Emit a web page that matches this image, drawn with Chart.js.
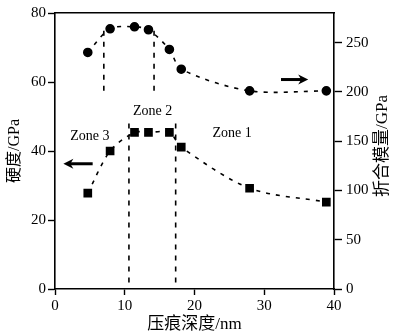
<!DOCTYPE html>
<html>
<head>
<meta charset="utf-8">
<script src="https://cdn.jsdelivr.net/npm/chart.js@4"></script>
<style>
  html, body { margin: 0; padding: 0; background: #fff; }
  #wrap { width: 394px; height: 333px; }
</style>
</head>
<body>
<div id="wrap"><canvas id="myChart" width="394" height="333"></canvas></div>
<script>
// 压痕深度 (nm)
const depth = [4.7, 7.9, 11.4, 13.4, 16.4, 18.1, 27.9, 38.9];
// 硬度 (GPa), left axis
const hardness = [27.8, 40, 45.4, 45.4, 45.4, 41.1, 29.2, 25.2];
// 折合模量 (GPa), right axis
const modulus = [240, 264, 266, 263, 243, 223, 201, 201];

const xTicks = [0, 10, 20, 30, 40];
const yLeftTicks = [0, 20, 40, 60, 80];
const yRightTicks = [0, 50, 100, 150, 200, 250];

// zone boundaries: [x, yFrom, yTo]
const upperZoneLines = [[7.0, 262, 197], [14.2, 262, 197]];  // right axis
const lowerZoneLines = [[10.6, 48, 0], [17.3, 48, 0]];       // left axis

// zone labels [text, x, yLeft]
const zoneLabels = [['Zone 3', 5.0, 44.3], ['Zone 2', 14.0, 51.6], ['Zone 1', 25.4, 45.1]];

const serif = '"Liberation Serif", "Noto Sans CJK SC", serif';

function zip(xs, ys) {
  return xs.map((x, i) => ({ x: x, y: ys[i] }));
}

function zoneDataset(line, axis) {
  return {
    data: [{ x: line[0], y: line[1] }, { x: line[0], y: line[2] }],
    yAxisID: axis,
    showLine: true,
    borderColor: '#000',
    borderWidth: 1.6,
    borderDash: [5, 6],
    pointRadius: 0
  };
}

const annotations = {
  id: 'annotations',
  afterDatasetsDraw(chart) {
    const { ctx, scales, chartArea } = chart;
    const xs = scales.x, yl = scales.y, yr = scales.y2;
    ctx.save();
    ctx.fillStyle = '#000';
    ctx.font = '14px ' + serif;
    ctx.textAlign = 'center';
    ctx.textBaseline = 'middle';
    zoneLabels.forEach(z => {
      ctx.fillText(z[0], xs.getPixelForValue(z[1]), yl.getPixelForValue(z[2]));
    });

    // right axis title reads bottom to top, like the left one
    ctx.save();
    ctx.translate(383, (chartArea.top + chartArea.bottom) / 2 - 5);
    ctx.rotate(-Math.PI / 2);
    ctx.font = '17px ' + serif;
    ctx.fillText('折合模量/GPa', 0, 0);
    ctx.restore();

    function arrow(x1, x2, y) {
      const dir = x2 > x1 ? 1 : -1;
      ctx.strokeStyle = '#000';
      ctx.lineWidth = 3;
      ctx.beginPath();
      ctx.moveTo(x1, y);
      ctx.lineTo(x2 - dir * 6, y);
      ctx.stroke();
      ctx.beginPath();
      ctx.moveTo(x2, y);
      ctx.lineTo(x2 - dir * 10, y - 5);
      ctx.lineTo(x2 - dir * 7, y);
      ctx.lineTo(x2 - dir * 10, y + 5);
      ctx.closePath();
      ctx.fill();
    }
    // hardness -> left axis, modulus -> right axis
    arrow(xs.getPixelForValue(5.4), xs.getPixelForValue(1.2), yl.getPixelForValue(36.3));
    arrow(xs.getPixelForValue(32.4), xs.getPixelForValue(36.3), yr.getPixelForValue(212.5));
    ctx.restore();
  }
};

const ctx = document.getElementById('myChart').getContext('2d');

new Chart(ctx, {
  type: 'scatter',
  data: {
    datasets: [
      {
        data: zip(depth, hardness),
        yAxisID: 'y',
        showLine: true,
        tension: 0.3,
        borderColor: '#000',
        borderWidth: 1.6,
        borderDash: [4, 6],
        pointStyle: 'rect',
        pointRadius: 5,
        pointBackgroundColor: '#000',
        pointBorderColor: '#000'
      },
      {
        data: zip(depth, modulus),
        yAxisID: 'y2',
        showLine: true,
        tension: 0.3,
        borderColor: '#000',
        borderWidth: 1.6,
        borderDash: [4, 6],
        pointStyle: 'circle',
        pointRadius: 4,
        pointBackgroundColor: '#000',
        pointBorderColor: '#000'
      },
      ...upperZoneLines.map(l => zoneDataset(l, 'y2')),
      ...lowerZoneLines.map(l => zoneDataset(l, 'y'))
    ]
  },
  options: {
    responsive: false,
    animation: false,
    layout: { padding: { top: 7, left: 0, right: 0, bottom: 0 } },
    plugins: {
      legend: { display: false },
      tooltip: { enabled: false }
    },
    scales: {
      x: {
        type: 'linear',
        position: 'bottom',
        min: 0,
        max: 40,
        afterBuildTicks: s => { s.ticks = xTicks.map(v => ({ value: v })); },
        afterFit: s => { s.height = 44; },
        border: { color: '#000', width: 1.6 },
        grid: { drawOnChartArea: false, drawTicks: true, tickLength: 6, color: '#000', tickWidth: 1.4 },
        ticks: { color: '#000', font: { family: serif, size: 15 }, padding: 2 },
        title: {
          display: true, text: '压痕深度/nm', color: '#000',
          font: { family: serif, size: 17, lineHeight: 1.0 }, padding: { top: 2, bottom: 0 }
        }
      },
      xTop: {
        type: 'linear',
        position: 'top',
        min: 0,
        max: 40,
        afterFit: s => { s.height = 0; },
        border: { color: '#000', width: 1.6 },
        grid: { drawOnChartArea: false, drawTicks: false },
        ticks: { display: false }
      },
      y: {
        type: 'linear',
        position: 'left',
        min: 0,
        max: 80,
        afterBuildTicks: s => { s.ticks = yLeftTicks.map(v => ({ value: v })); },
        afterFit: s => { s.width = 55; },
        border: { color: '#000', width: 1.6 },
        grid: { drawOnChartArea: false, drawTicks: true, tickLength: 7, color: '#000', tickWidth: 1.4 },
        ticks: { color: '#000', font: { family: serif, size: 15 }, padding: 2 },
        title: {
          display: true, text: '硬度/GPa', color: '#000',
          font: { family: serif, size: 16 }, padding: { top: 5, bottom: 0 }
        }
      },
      y2: {
        type: 'linear',
        position: 'right',
        min: 0,
        max: 280,
        afterBuildTicks: s => { s.ticks = yRightTicks.map(v => ({ value: v })); },
        afterFit: s => { s.width = 60; },
        border: { color: '#000', width: 1.6 },
        grid: { drawOnChartArea: false, drawTicks: true, tickLength: 8, color: '#000', tickWidth: 1.4 },
        ticks: { color: '#000', font: { family: serif, size: 15 }, padding: 4 }
      }
    }
  },
  plugins: [annotations]
});
</script>
</body>
</html>
